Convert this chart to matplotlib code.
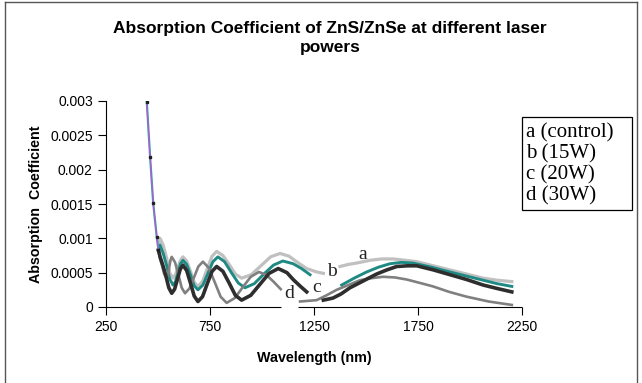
import matplotlib
matplotlib.use("Agg")
import matplotlib.pyplot as plt
from matplotlib.lines import Line2D
from matplotlib.patches import Rectangle

# steep part shared by all four samples
steep_x = [446, 462, 477, 494, 502]
steep_y = [0.00299, 0.00219, 0.00151, 0.00102, 0.00083]

# a (control)
a_left_x = [502, 510, 525, 541, 556, 572, 584, 596, 608, 620, 638, 656, 674, 692, 714, 737, 760, 782,
            812, 842, 872, 902, 948, 995, 1041, 1087, 1130, 1175, 1215, 1263, 1295]
a_left_y = [0.00083, 0.00100, 0.00090, 0.00072, 0.00050, 0.00042, 0.00047, 0.00058, 0.00068, 0.00073,
            0.00067, 0.00052, 0.00036, 0.00030, 0.00037, 0.00056, 0.00074, 0.00081, 0.00075, 0.00062,
            0.00048, 0.00042, 0.00047, 0.00060, 0.00073, 0.00078, 0.00074, 0.00064, 0.00056, 0.00051, 0.00049]
a_right_x = [1375, 1415, 1455, 1519, 1575, 1630, 1690, 1744, 1824, 1904, 1984, 2063, 2130, 2201]
a_right_y = [0.00059, 0.00062, 0.00064, 0.00068, 0.00070, 0.00070, 0.00068, 0.00066, 0.00060, 0.00054,
             0.00048, 0.00042, 0.00039, 0.00037]

# b (15W)
b_left_x = [502, 510, 525, 541, 556, 572, 584, 596, 608, 620, 638, 656, 674, 692, 716, 740, 764, 788,
            820, 853, 886, 918, 963, 1009, 1055, 1100, 1150, 1190, 1231]
b_left_y = [0.00083, 0.00090, 0.00078, 0.00061, 0.00041, 0.00032, 0.00037, 0.00050, 0.00063, 0.00068,
            0.00062, 0.00047, 0.00031, 0.00025, 0.00032, 0.00049, 0.00066, 0.00073, 0.00066, 0.00050,
            0.00035, 0.00028, 0.00034, 0.00048, 0.00061, 0.00067, 0.00063, 0.00056, 0.00047]
b_right_x = [1383, 1443, 1503, 1560, 1615, 1670, 1726, 1815, 1904, 1984, 2063, 2130, 2201]
b_right_y = [0.00032, 0.00042, 0.00051, 0.00058, 0.00063, 0.00065, 0.00064, 0.00058, 0.00051, 0.00045,
             0.00039, 0.00034, 0.00030]

# c (20W)
c_left_x = [502, 510, 524, 538, 552, 566, 580, 593, 607, 620, 638, 656, 674, 692, 714, 737, 760, 782,
            812, 842, 872, 902, 946, 990, 1034, 1078, 1120, 1150, 1185, 1215]
c_left_y = [0.00083, 0.00073, 0.00060, 0.00045, 0.00028, 0.00020, 0.00026, 0.00040, 0.00055, 0.00061,
            0.00053, 0.00035, 0.00016, 0.00008, 0.00015, 0.00034, 0.00052, 0.00059, 0.00052, 0.00035,
            0.00017, 0.00010, 0.00017, 0.00033, 0.00049, 0.00056, 0.00050, 0.00040, 0.00030, 0.00022]
c_right_x = [1295, 1341, 1380, 1423, 1487, 1551, 1600, 1648, 1700, 1744, 1824, 1904, 1984, 2063, 2130, 2201]
c_right_y = [0.00010, 0.00013, 0.00019, 0.00028, 0.00038, 0.00048, 0.00054, 0.00059, 0.00060, 0.00060,
             0.00054, 0.00047, 0.00040, 0.00032, 0.00027, 0.00022]

# d (30W)
d_left_x = [502, 510, 518, 530, 542, 548, 554, 560, 566, 582, 598, 614, 630, 651, 673, 694, 716,
            744, 773, 801, 830, 869, 908, 946, 985, 1020, 1055, 1090]
d_left_y = [0.00083, 0.00070, 0.00062, 0.00048, 0.00042, 0.00047, 0.00058, 0.00068, 0.00073, 0.00065,
            0.00047, 0.00028, 0.00020, 0.00027, 0.00043, 0.00059, 0.00066, 0.00057, 0.00036, 0.00015,
            0.00006, 0.00013, 0.00029, 0.00044, 0.00051, 0.00047, 0.00037, 0.00026]
d_right_x = [1183, 1223, 1263, 1310, 1359, 1415, 1471, 1527, 1582, 1640, 1696, 1760, 1822, 1900, 1984, 2090, 2201]
d_right_y = [0.00008, 0.00009, 0.00010, 0.00017, 0.00025, 0.00032, 0.00039, 0.00042, 0.00044, 0.00043,
             0.00040, 0.00035, 0.00030, 0.00022, 0.00015, 0.00008, 0.00003]

x_ticks = [250, 750, 1250, 1750, 2250]
y_ticks = [0, 0.0005, 0.001, 0.0015, 0.002, 0.0025, 0.003]
y_tick_labels = ["0", "0.0005", "0.001", "0.0015", "0.002", "0.0025", "0.003"]
legend_lines = ["a (control)", "b (15W)", "c (20W)", "d (30W)"]

plt.rcParams['font.family'] = ['Liberation Sans', 'DejaVu Sans']

fig = plt.figure(figsize=(6.42, 3.83), dpi=100)
ax = fig.add_axes([106/642, 1-307/383, 416/642, 206/383])

colors = {'a': '#c0c0c0', 'b': '#1f8a84', 'c': '#2e2e2e', 'd': '#808080'}

ax.plot(a_left_x, a_left_y, color=colors['a'], lw=2.3)
ax.plot(a_right_x, a_right_y, color=colors['a'], lw=2.3)
ax.plot(b_left_x, b_left_y, color=colors['b'], lw=2.1)
ax.plot(b_right_x, b_right_y, color=colors['b'], lw=2.1)
ax.plot(d_left_x, d_left_y, color=colors['d'], lw=1.9)
ax.plot(d_right_x, d_right_y, color=colors['d'], lw=1.9)
ax.plot(c_left_x, c_left_y, color=colors['c'], lw=2.6)
ax.plot(c_right_x, c_right_y, color=colors['c'], lw=2.6)

ax.plot(steep_x, steep_y, color='#20b0a8', lw=1.6)
ax.plot(steep_x, steep_y, color='#e040e0', lw=0.8)
ax.plot(steep_x, steep_y, color='#202020', lw=0, marker='s', ms=2)

# curve labels
lab_font = dict(family='Liberation Serif', fontsize=14, color='#222222', ha='center', va='center')
ax.text(1486, 0.00077, 'a', **lab_font)
ax.text(1337, 0.00051, 'b', **lab_font)
ax.text(1262, 0.00029, 'c', **lab_font)
ax.text(1130, 0.00019, 'd', **lab_font)

ax.set_xlim(250, 2250)
ax.set_ylim(0, 0.003)
ax.set_xticks(x_ticks)
ax.set_xticklabels([str(v) for v in x_ticks])
ax.set_yticks(y_ticks)
ax.set_yticklabels(y_tick_labels)
ax.tick_params(direction='out', length=5.5, width=0.8, labelsize=10, pad=4)
for s in ['top', 'right', 'bottom']:
    ax.spines[s].set_visible(False)
ax.spines['left'].set_linewidth(0.8)

# bottom axis line is broken in the original
ax.hlines(0, 250, 1090, color='black', lw=0.8, clip_on=False)
ax.hlines(0, 1175, 2250, color='black', lw=0.8, clip_on=False)

ax.set_xlabel('Wavelength (nm)', fontsize=10.3, fontweight='bold', labelpad=12)
ax.set_ylabel('Absorption  Coefficient', fontsize=10.3, fontweight='bold', labelpad=5)

fig.text(330/642, 1-38/383, 'Absorption Coefficient of ZnS/ZnSe at different laser\npowers',
         ha='center', va='center', fontsize=12.5, fontweight='bold', linespacing=1.3)

# legend box
fig.patches.append(Rectangle((522/642, 1-210/383), 110/642, 93/383, transform=fig.transFigure,
                             fill=False, ec='black', lw=0.9))
for i, t in enumerate(legend_lines):
    fig.text(526/642, 1-(133 + i*21)/383, t, ha='left', va='center',
             family='Liberation Serif', fontsize=15)

# outer frame
fig.add_artist(Line2D([5/642, 5/642], [0, 1-2/383], transform=fig.transFigure, color='#555555', lw=1))
fig.add_artist(Line2D([5/642, 637/642], [1-2/383, 1-2/383], transform=fig.transFigure, color='#555555', lw=1))
fig.add_artist(Line2D([637/642, 637/642], [0, 1-2/383], transform=fig.transFigure, color='#555555', lw=1))

fig.savefig('out.png', dpi=100)
